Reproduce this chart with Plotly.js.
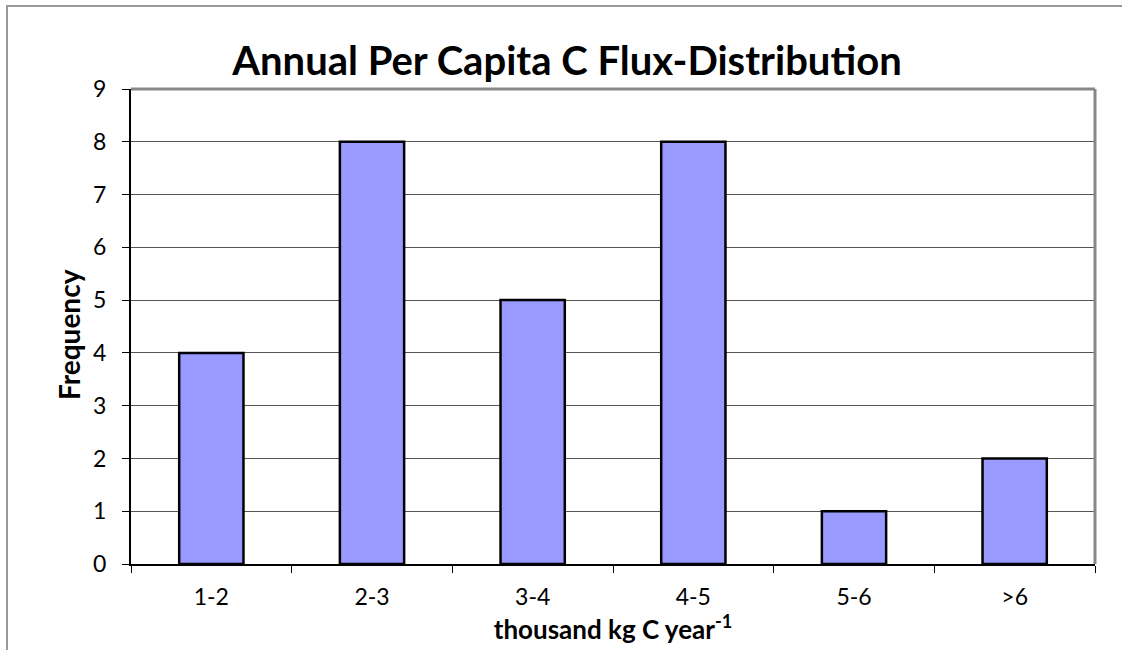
<!DOCTYPE html>
<html>
<head>
<meta charset="utf-8">
<script src="https://cdn.plot.ly/plotly-3.0.1.min.js"></script>
<style>
html,body{margin:0;padding:0;background:#fff;}
#chart{width:1122px;height:650px;}
</style>
</head>
<body>
<div id="chart"></div>
<script>
const categories = ["1-2", "2-3", "3-4", "4-5", "5-6", ">6"];
const frequency = [4, 8, 5, 8, 1, 2];
const yTicks = [0, 1, 2, 3, 4, 5, 6, 7, 8, 9];

const W = 1122, H = 650;
const L = 131, R = 1095, T = 89, B = 564;
const pw = R - L, ph = B - T;
const px = v => (v - L) / pw;
const py = v => (B - v) / ph;

const font = "Lato, 'Open Sans', sans-serif";

const trace = {
  type: "bar",
  x: categories,
  y: frequency,
  marker: { color: "#9999FF", line: { color: "#000000", width: 2.5 } },
  hoverinfo: "x+y"
};

const layout = {
  width: W, height: H,
  margin: { l: L, r: W - R, t: T, b: H - B, pad: 0 },
  paper_bgcolor: "#ffffff",
  plot_bgcolor: "#ffffff",
  showlegend: false,
  bargap: 0.6,
  font: { family: font, color: "#000000", size: 23 },
  title: {
    text: "<b>Annual Per Capita C Flux-Distribution</b>",
    font: { family: font, size: 40, color: "#000000" },
    x: 567 / W, xref: "container", xanchor: "center",
    y: 1 - 61 / H, yref: "container", yanchor: "middle"
  },
  xaxis: {
    type: "category",
    tickson: "boundaries",
    ticks: "outside", ticklen: 7, tickcolor: "#000", tickwidth: 1,
    ticklabelstandoff: 11,
    showline: true, linecolor: "#000", linewidth: 2,
    showgrid: false, zeroline: false,
    tickfont: { family: font, size: 23, color: "#000" },
    title: {
      text: "<b>thousand kg C year<sup>-1</sup></b>",
      font: { family: font, size: 26, color: "#000" },
      standoff: 4
    }
  },
  yaxis: {
    range: [0, 9],
    tickvals: yTicks,
    ticktext: yTicks.map(String),
    ticks: "outside", ticklen: 7, tickcolor: "#000", tickwidth: 1,
    ticklabelstandoff: 11,
    showline: true, linecolor: "#000", linewidth: 2,
    showgrid: true, gridcolor: "#555555", gridwidth: 1,
    zeroline: false,
    tickfont: { family: font, size: 23, color: "#000" }
  },
  annotations: [
    {
      text: "<b>Frequency</b>",
      textangle: -90,
      xref: "paper", yref: "paper",
      x: px(69), y: py(335),
      xanchor: "center", yanchor: "middle",
      showarrow: false,
      font: { family: font, size: 28, color: "#000" }
    }
  ],
  shapes: [
    { type: "line", xref: "paper", yref: "paper", x0: 0, x1: 1, y0: 1, y1: 1,
      line: { color: "#888888", width: 3 }, layer: "above" },
    { type: "line", xref: "paper", yref: "paper", x0: 1, x1: 1, y0: 0, y1: 1,
      line: { color: "#888888", width: 3 }, layer: "above" },
    { type: "rect", xref: "paper", yref: "paper",
      x0: px(7), x1: px(1135), y0: py(665), y1: py(6),
      line: { color: "#999999", width: 2 }, layer: "below" }
  ]
};

Plotly.newPlot("chart", [trace], layout, { displayModeBar: false, staticPlot: true });
</script>
</body>
</html>
